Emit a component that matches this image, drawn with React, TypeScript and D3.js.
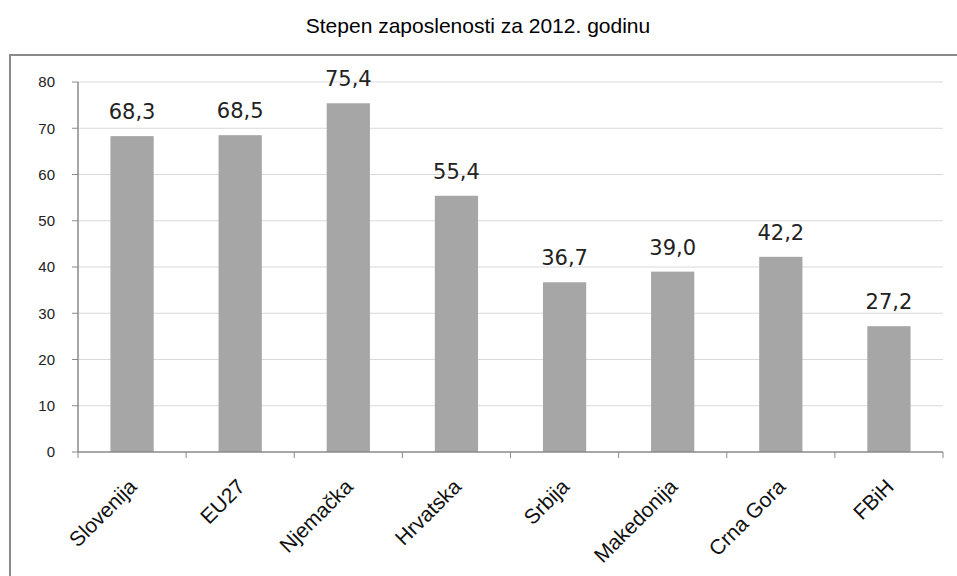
import React from "react";
import * as d3 from "d3";

const categories = ["Slovenija", "EU27", "Njemačka", "Hrvatska", "Srbija", "Makedonija", "Crna Gora", "FBiH"];
const values = [68.3, 68.5, 75.4, 55.4, 36.7, 39.0, 42.2, 27.2];
const yTicks = [0, 10, 20, 30, 40, 50, 60, 70, 80];
const title = "Stepen zaposlenosti za 2012. godinu";

const W = 957;
const H = 576;
const plot = { left: 78, right: 943, top: 82, bottom: 452 };

export default function App() {
  const x = d3
    .scaleBand<string>()
    .domain(categories)
    .range([plot.left, plot.right])
    .paddingInner(0.6)
    .paddingOuter(0.3);
  const band = d3.scaleBand<string>().domain(categories).range([plot.left, plot.right]).padding(0);
  const y = d3.scaleLinear().domain([0, 80]).range([plot.bottom, plot.top]);
  const fmt = (v: number) => v.toFixed(1).replace(".", ",");
  const boundaries = categories.map((c) => band(c) as number).concat([plot.right]);

  return (
    <svg
      width={W}
      height={H}
      style={{ position: "absolute", left: 0, top: 0, background: "#fff" }}
    >
      <text
        x={478}
        y={33}
        textAnchor="middle"
        fontFamily="Liberation Sans, Arial, sans-serif"
        fontSize={21}
        fill="#000"
      >
        {title}
      </text>
      <rect x={10} y={55} width={W + 20} height={H + 20} fill="none" stroke="#8a8a8a" strokeWidth={2} />
      {yTicks.map((t) => (
        <g key={t}>
          {t > 0 && (
            <line x1={plot.left} x2={plot.right} y1={y(t)} y2={y(t)} stroke="#d9d9d9" strokeWidth={1} />
          )}
          <line x1={plot.left - 6} x2={plot.left} y1={y(t)} y2={y(t)} stroke="#8a8a8a" strokeWidth={1} />
          <text
            x={plot.left - 23}
            y={y(t)}
            dy="0.36em"
            textAnchor="end"
            fontFamily="Liberation Sans, Arial, sans-serif"
            fontSize={15}
            fill="#222"
          >
            {t}
          </text>
        </g>
      ))}
      {categories.map((c, i) => (
        <g key={c}>
          <rect
            x={x(c)}
            y={y(values[i])}
            width={x.bandwidth()}
            height={y(0) - y(values[i])}
            fill="#a6a6a6"
          />
          <text
            x={(x(c) as number) + x.bandwidth() / 2}
            y={y(values[i]) - 17}
            textAnchor="middle"
            fontFamily="DejaVu Sans, Verdana, sans-serif"
            fontSize={21}
            fill="#222"
          >
            {fmt(values[i])}
          </text>
          <text
            transform={`translate(${(band(c) as number) + band.bandwidth() / 2 + 6},${plot.bottom + 36}) rotate(-45)`}
            textAnchor="end"
            fontFamily="Liberation Sans, Arial, sans-serif"
            fontSize={21}
            fill="#111"
          >
            {c}
          </text>
        </g>
      ))}
      <line x1={plot.left} x2={plot.left} y1={plot.top} y2={plot.bottom} stroke="#8a8a8a" strokeWidth={1.5} />
      <line x1={plot.left} x2={plot.right} y1={plot.bottom} y2={plot.bottom} stroke="#8a8a8a" strokeWidth={1.5} />
      {boundaries.map((b, i) => (
        <line key={i} x1={b} x2={b} y1={plot.bottom} y2={plot.bottom + 6} stroke="#8a8a8a" strokeWidth={1} />
      ))}
    </svg>
  );
}
